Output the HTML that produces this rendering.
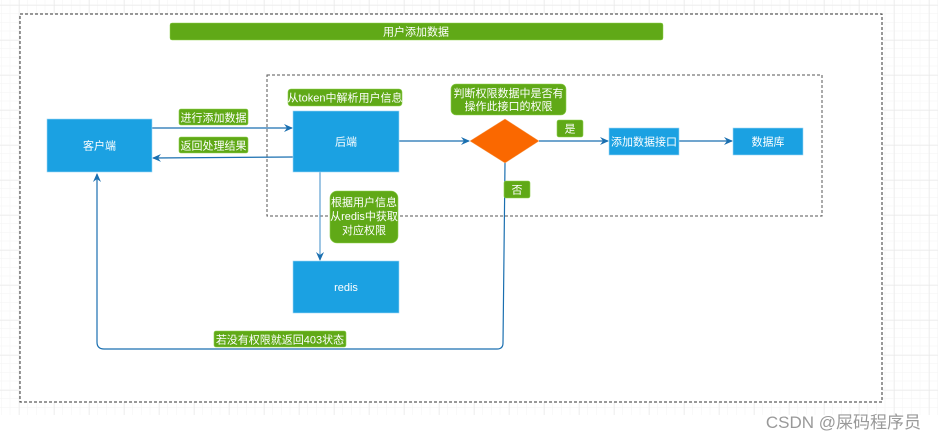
<!DOCTYPE html>
<html><head><meta charset="utf-8">
<style>
html,body{margin:0;padding:0;background:#fff;}
svg{display:block;}
text{font-family:"Liberation Sans","Noto Sans CJK SC",sans-serif;}
</style></head>
<body>
<svg width="938" height="440" viewBox="0 0 938 440" xmlns="http://www.w3.org/2000/svg">
<defs>
<pattern id="minor" x="19" y="5" width="8.75" height="8.75" patternUnits="userSpaceOnUse">
<path d="M8.75 0V8.75M0 8.75H8.75" stroke="#f3f3f3" stroke-width="1" fill="none"/>
</pattern>
<pattern id="major" x="19" y="5" width="35" height="35" patternUnits="userSpaceOnUse">
<path d="M0 0V35M0 0H35" stroke="#e6e6e6" stroke-width="1" fill="none"/>
</pattern>
<marker id="ar" markerWidth="10" markerHeight="10" refX="8" refY="5" orient="auto" markerUnits="userSpaceOnUse">
<path d="M0,1 L9,5 L0,9 L3,5 Z" fill="#1a6fb0"/>
</marker>
</defs>
<rect x="0" y="0" width="938" height="415" fill="url(#minor)"/>
<rect x="0" y="0" width="938" height="415" fill="url(#major)"/>
<rect x="20" y="14" width="862" height="388" fill="#fff" stroke="#333" stroke-dasharray="3,2" stroke-width="1"/>
<rect x="170" y="23" width="493" height="17" rx="2" fill="#60a917" stroke="#8fd14f" stroke-width="0.5"/>
<text x="416" y="35.5" font-size="11" fill="#fff" text-anchor="middle">用户添加数据</text>
<rect x="267" y="75" width="555" height="141" fill="none" stroke="#555" stroke-dasharray="3,2" stroke-width="1"/>

<g stroke="#1a6fb0" stroke-width="1.2" fill="none">
<line x1="152" y1="128" x2="292" y2="128" marker-end="url(#ar)"/>
<line x1="293" y1="157" x2="153" y2="158" marker-end="url(#ar)"/>
<line x1="399" y1="141" x2="469" y2="141" marker-end="url(#ar)"/>
<line x1="539" y1="141" x2="608" y2="141" marker-end="url(#ar)"/>
<line x1="679" y1="141" x2="732" y2="141" marker-end="url(#ar)"/>
<line x1="320" y1="172" x2="320" y2="260" marker-end="url(#ar)" stroke="#5d9fd3"/>
<path d="M505 163 L503 343 Q503 349 497 349 L104 349 Q97 349 97 342 L97 174" marker-end="url(#ar)"/>
</g>

<g fill="#1ba1e2" stroke="#9fd8f5" stroke-width="0.6">
<rect x="47" y="119" width="105" height="53"/>
<rect x="293" y="111" width="106" height="61"/>
<rect x="293" y="261" width="106" height="52"/>
<rect x="609" y="128" width="70" height="27"/>
<rect x="733" y="128" width="70" height="27"/>
</g>
<polygon points="505,119 539,141 505,163 470,141" fill="#fa6800" stroke="#f5a15c" stroke-width="0.5"/>
<g font-size="11" fill="#fff" text-anchor="middle">
<text x="99.5" y="149.5">客户端</text>
<text x="346" y="145.5">后端</text>
<text x="346" y="291">redis</text>
<text x="644" y="145.5">添加数据接口</text>
<text x="768" y="145.5">数据库</text>
</g>

<g fill="#60a917" stroke="#8fd14f" stroke-width="0.6">
<rect x="179" y="109" width="69" height="16" rx="2"/>
<rect x="179" y="137" width="69" height="16" rx="2"/>
<rect x="288" y="89" width="114" height="17" rx="3"/>
<rect x="330" y="191" width="68" height="52" rx="7"/>
<rect x="451" y="84" width="115" height="31" rx="5"/>
<rect x="557" y="120" width="26" height="17" rx="2"/>
<rect x="504" y="181" width="26" height="17" rx="2"/>
<rect x="214" y="331" width="132" height="16" rx="2"/>
</g>
<g font-size="11" fill="#fff" text-anchor="middle">
<text x="213.5" y="121.5">进行添加数据</text>
<text x="213.5" y="149.5">返回处理结果</text>
<text x="345" y="101.5">从token中解析用户信息</text>
<text x="364" y="206">根据用户信息</text>
<text x="364" y="220">从redis中获取</text>
<text x="364" y="234">对应权限</text>
<text x="508.5" y="97">判断权限数据中是否有</text>
<text x="508.5" y="110">操作此接口的权限</text>
<text x="570" y="132.5">是</text>
<text x="517" y="193.5">否</text>
<text x="280" y="343.5">若没有权限就返回403状态</text>
</g>
<text x="921" y="428" font-size="17" fill="#999" text-anchor="end">CSDN @屎码程序员</text>
</svg>
</body></html>
